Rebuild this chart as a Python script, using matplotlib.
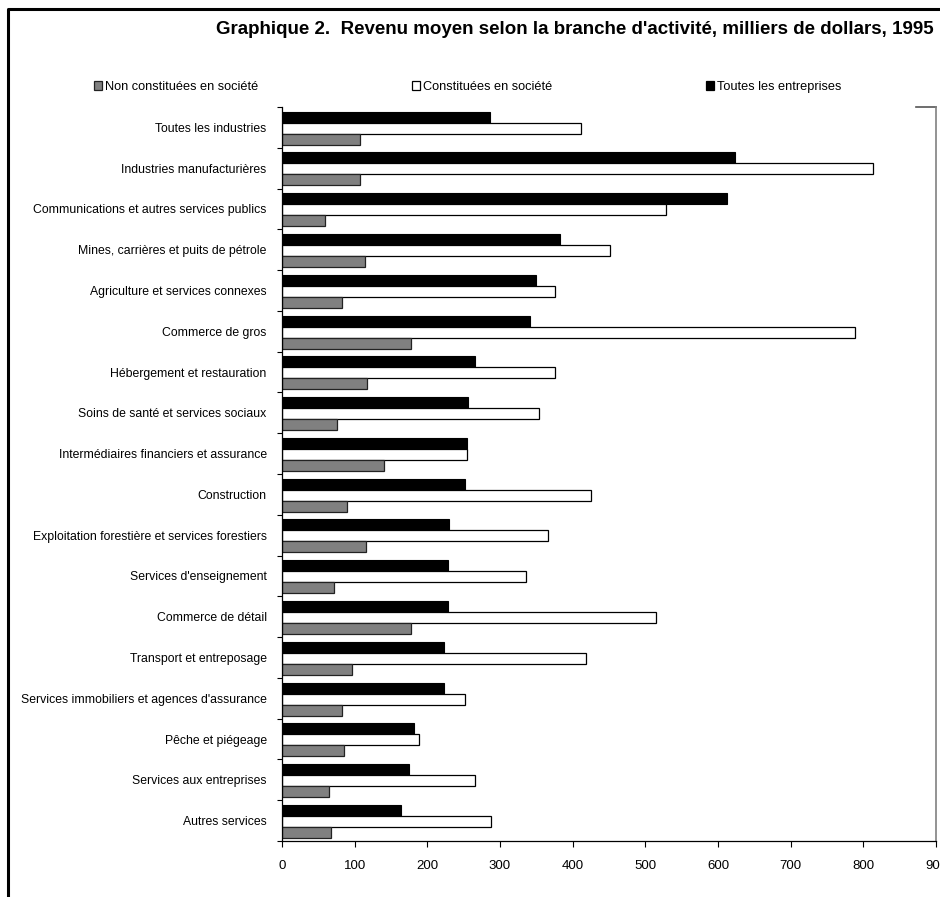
import numpy as np
import matplotlib
matplotlib.use("Agg")
import matplotlib.pyplot as plt
from matplotlib.lines import Line2D
from matplotlib.patches import Patch

plt.rcParams['font.family'] = ['Liberation Sans', 'DejaVu Sans']

categories = [
    "Toutes les industries",
    "Industries manufacturières",
    "Communications et autres services publics",
    "Mines, carrières et puits de pétrole",
    "Agriculture et services connexes",
    "Commerce de gros",
    "Hébergement et restauration",
    "Soins de santé et services sociaux",
    "Intermédiaires financiers et assurance",
    "Construction",
    "Exploitation forestière et services forestiers",
    "Services d'enseignement",
    "Commerce de détail",
    "Transport et entreposage",
    "Services immobiliers et agences d'assurance",
    "Pêche et piégeage",
    "Services aux entreprises",
    "Autres services",
]
# milliers de dollars
toutes = [286, 624, 613, 383, 350, 341, 265, 256, 254, 252, 230, 228, 228, 223, 223, 182, 175, 164]
constituees = [412, 813, 528, 452, 375, 788, 375, 353, 255, 425, 366, 336, 515, 419, 252, 189, 265, 287]
non_constituees = [107, 107, 59, 114, 83, 177, 117, 75, 141, 90, 116, 71, 178, 97, 83, 85, 64, 68]
series_names = ["Non constituées en société", "Constituées en société", "Toutes les entreprises"]
xticks = list(range(0, 1000, 100))

W, H = 940, 897
fig = plt.figure(figsize=(W / 100, H / 100), dpi=100)
ax = fig.add_axes([282 / W, 1 - 841 / H, (936 - 282) / W, (841 - 107) / H])

y = np.arange(len(categories))
h = 0.27
ax.barh(y - 0.25, toutes, height=h, color='black', edgecolor='black', linewidth=0.8)
ax.barh(y + 0.02, constituees, height=h, color='white', edgecolor='black', linewidth=0.9)
ax.barh(y + 0.29, non_constituees, height=h, color='#808080', edgecolor='#222222', linewidth=0.9)

ax.set_xlim(0, 900)
ax.set_ylim(len(categories) - 0.5, -0.5)
ax.set_xticks(xticks)
ax.set_xticklabels([str(v) for v in xticks], fontsize=9.5)
ax.tick_params(axis='x', direction='out', length=4.5, width=0.8, pad=9)

ax.set_yticks(y)
ax.set_yticklabels(categories, fontsize=8.8)
ax.tick_params(axis='y', which='major', length=0, pad=11)
ax.set_yticks(np.arange(-0.5, len(categories), 1), minor=True)
ax.tick_params(axis='y', which='minor', direction='out', length=3.5, width=0.8)

ax.spines['top'].set_visible(False)
ax.spines['right'].set_color('#808080')
ax.spines['right'].set_linewidth(1.2)
ax.spines['left'].set_linewidth(0.9)
ax.spines['bottom'].set_linewidth(0.9)
ax.plot([0.969, 1.0], [1.0, 1.0], transform=ax.transAxes, color='#555555', lw=1.2, clip_on=False)

# title
fig.text(575 / W, 1 - 30 / H,
         "Graphique 2.  Revenu moyen selon la branche d'activité, milliers de dollars, 1995",
         ha='center', va='center', fontsize=13.5, fontweight='bold')

# legend
handles = [Patch(facecolor='#808080', edgecolor='#222222', linewidth=0.9),
           Patch(facecolor='white', edgecolor='black', linewidth=0.9),
           Patch(facecolor='black', edgecolor='black', linewidth=0.9)]
fig.legend(handles, series_names, loc='center left', bbox_to_anchor=(94 / W, 1 - 87 / H),
           ncol=3, frameon=False, fontsize=9.2, handlelength=0.63, handleheight=0.63,
           handletextpad=0.25, columnspacing=12.0, borderpad=0, borderaxespad=0)

# figure border (left and top only visible)
fig.add_artist(Line2D([8 / W, 8 / W, 1.0], [0.0, 1 - 9 / H, 1 - 9 / H],
                      color='black', lw=2.2, transform=fig.transFigure))

fig.savefig("out.png", dpi=100)
